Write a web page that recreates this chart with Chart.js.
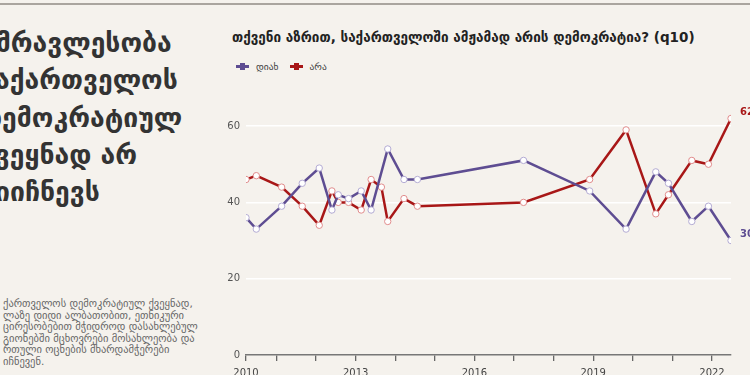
<!DOCTYPE html>
<html>
<head>
<meta charset="utf-8">
<script src="https://cdn.jsdelivr.net/npm/chart.js@4.4.1/dist/chart.umd.min.js"></script>
<style>
  html, body { margin: 0; padding: 0; }
  body {
    width: 750px; height: 375px; overflow: hidden; position: relative;
    background: #f5f2ed; font-family: "DejaVu Sans", sans-serif;
  }
  .topRule { position: absolute; left: 0; top: 3px; width: 750px; height: 2px; background: #aaa59f; }
  .headline {
    position: absolute; left: -20px; top: 24px; width: 260px;
    font-size: 26.5px; font-weight: bold; line-height: 37.3px; color: #333; white-space: nowrap;
  }
  .blurb {
    position: absolute; left: 3px; top: 298px;
    font-size: 10.5px; line-height: 11.6px; color: #666; white-space: nowrap;
  }
  .title {
    position: absolute; left: 232px; top: 29px;
    font-size: 13.5px; font-weight: bold; color: #222; white-space: nowrap;
  }
  .legend { position: absolute; left: 236px; top: 60px; font-size: 9.5px; color: #444; white-space: nowrap; }
  .legend span { display: inline-block; vertical-align: middle; }
  .mark { position: relative; width: 13px; height: 3px; margin-right: 7px; }
  .mark::after { content: ''; position: absolute; left: 4px; top: -2px; width: 5px; height: 7px; background: inherit; }
  .chartBox { position: absolute; left: 225px; top: 95px; width: 525px; height: 280px; }
</style>
</head>
<body>
<div class="topRule"></div>
<div class="headline">უმრავლესობა<br>საქართველოს<br>დემოკრატიულ<br>ქვეყნად არ<br>მიიჩნევს</div>
<div class="blurb">ქართველოს დემოკრატიულ ქვეყნად,<br>ლაზე დიდი ალბათობით, ეთნიკური<br>ცირესობებით მჭიდროდ დასახლებულ<br>გიონებში მცხოვრები მოსახლეობა და<br>რთული ოცნების მხარდამჭერები<br>იჩნევენ.</div>
<div class="title">თქვენი აზრით, საქართველოში ამჟამად არის დემოკრატია? (q10)</div>
<div class="legend">
  <span class="mark" style="background:#5e4d92"></span><span style="margin-right:8px">დიახ</span>
  <span class="mark" style="background:#a81717"></span><span>არა</span>
</div>
<div class="chartBox"><canvas id="demoChart" width="525" height="280"></canvas></div>

<script>
// survey waves as decimal years
const surveyDates = [2010.23, 2010.49, 2011.13, 2011.65, 2012.08, 2012.40, 2012.56, 2012.82,
    2013.14, 2013.39, 2013.65, 2013.81, 2014.22, 2014.56, 2017.24, 2018.91,
    2019.83, 2020.58, 2020.90, 2021.49, 2021.91, 2022.48];
const yesValues = [36, 33, 39, 45, 49, 38, 42, 41, 43, 38, null, 54, 46, 46, 51, 43, 33, 48, 45, 35, 39, 30];
const noValues = [46, 47, 44, 39, 34, 43, 40, 40, 38, 46, 44, 35, 41, 39, 40, 46, 59, 37, 42, 51, 50, 62];
const seriesNames = ['დიახ', 'არა'];
const yTicks = [0, 20, 40, 60];
const xMinorYears = [2011, 2012, 2013, 2014, 2015, 2016, 2017, 2018, 2019, 2020, 2021, 2022];
const xLabelYears = [2010, 2013, 2016, 2019, 2022];

const yesColor = '#5e4d92';
const noColor = '#a81717';

const toPoints = (vals) => surveyDates.map((d, i) => ({ x: d, y: vals[i] }));

// value labels at the end of each line
const endLabels = {
    id: 'endLabels',
    afterDatasetsDraw(chart) {
        const ctx = chart.ctx;
        ctx.save();
        ctx.font = 'bold 10px "DejaVu Sans", sans-serif';
        ctx.textAlign = 'left';
        ctx.textBaseline = 'middle';
        chart.data.datasets.forEach((ds, i) => {
            const pts = chart.getDatasetMeta(i).data;
            const last = pts[pts.length - 1];
            ctx.fillStyle = ds.borderColor;
            ctx.fillText(String(ds.data[ds.data.length - 1].y), last.x + 9, last.y - 6);
        });
        ctx.restore();
    }
};

new Chart(document.getElementById('demoChart'), {
    type: 'line',
    data: {
        datasets: [{
            label: seriesNames[0],
            data: toPoints(yesValues),
            borderColor: yesColor,
            pointBorderColor: '#b3abd3',
            pointBackgroundColor: '#ffffff',
            spanGaps: true
        }, {
            label: seriesNames[1],
            data: toPoints(noValues),
            borderColor: noColor,
            pointBorderColor: '#e08c8c',
            pointBackgroundColor: '#ffffff',
            spanGaps: true
        }]
    },
    options: {
        responsive: false,
        animation: false,
        layout: { padding: { top: 10, right: 19, left: 0, bottom: 0 } },
        elements: {
            line: { borderWidth: 2.5, tension: 0 },
            point: { radius: 3.2, borderWidth: 1, hoverRadius: 3.2 }
        },
        plugins: { legend: { display: false }, tooltip: { enabled: false } },
        scales: {
            x: {
                type: 'linear',
                min: surveyDates[0],
                max: surveyDates[surveyDates.length - 1],
                afterBuildTicks: (axis) => {
                    axis.ticks = [surveyDates[0], ...xMinorYears].map(v => ({ value: v }));
                },
                afterFit: (axis) => { axis.height = 20; },
                grid: { drawOnChartArea: false, drawTicks: true, tickLength: 6, color: '#666', lineWidth: 1.3 },
                border: { color: '#777', width: 1.5 },
                ticks: {
                    autoSkip: false,
                    maxRotation: 0,
                    padding: 6,
                    color: '#444',
                    font: { size: 10, family: '"DejaVu Sans", sans-serif' },
                    callback: (value) => {
                        if (value === surveyDates[0]) return '2010';
                        return xLabelYears.includes(value) ? String(value) : '';
                    }
                }
            },
            y: {
                min: 0,
                max: 65,
                afterBuildTicks: (axis) => { axis.ticks = yTicks.map(v => ({ value: v })); },
                afterFit: (axis) => { axis.width = 21; },
                grid: {
                    drawTicks: false,
                    lineWidth: 1.5,
                    color: (c) => c.tick && c.tick.value === 0 ? 'rgba(0,0,0,0)' : '#ffffff'
                },
                border: { display: false },
                ticks: {
                    padding: 6,
                    color: '#555',
                    font: { size: 10, family: '"DejaVu Sans", sans-serif' }
                }
            }
        }
    },
    plugins: [endLabels]
});
</script>
</body>
</html>
